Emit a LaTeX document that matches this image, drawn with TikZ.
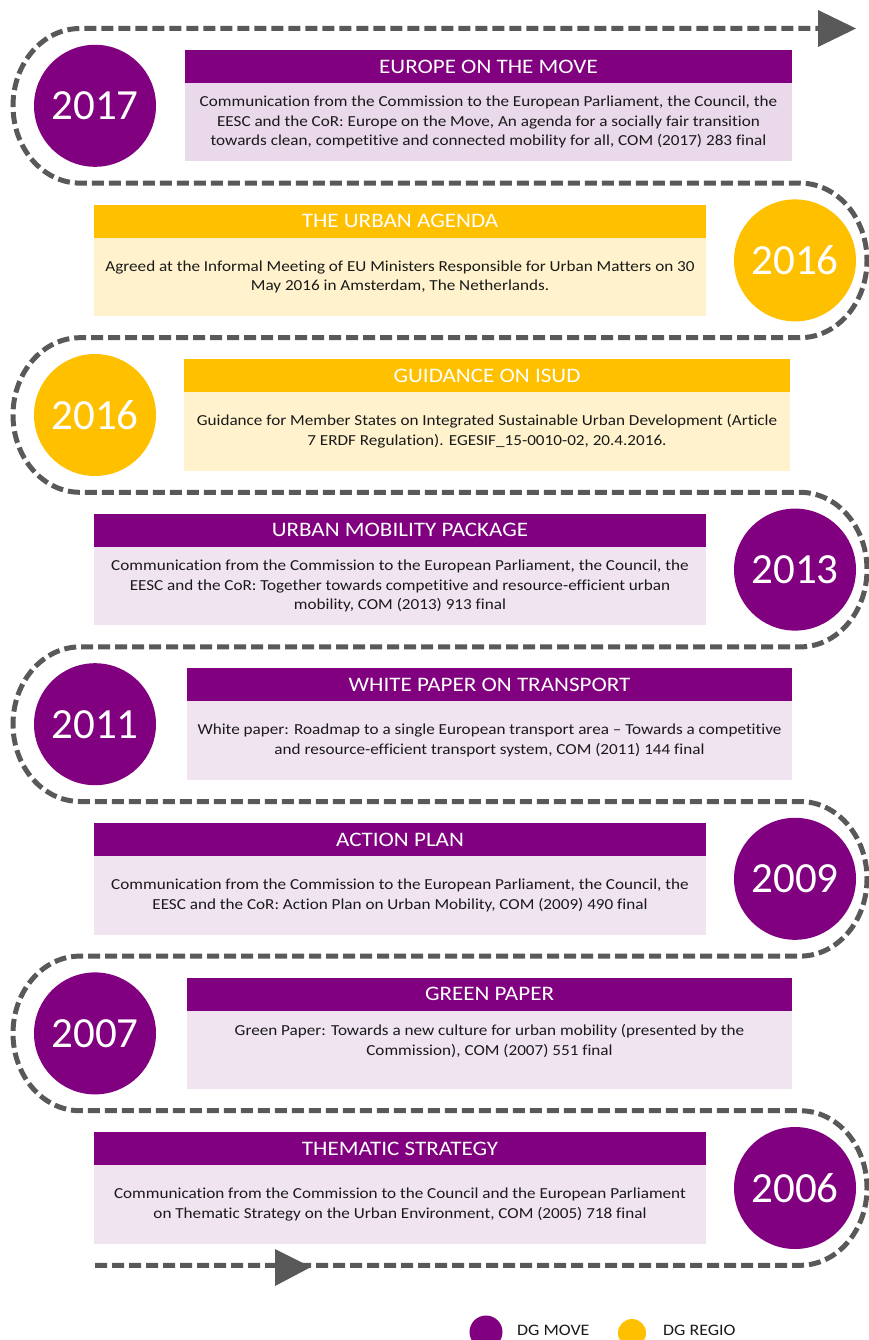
\documentclass[tikz,border=0pt]{standalone}
\usepackage{fontspec}
\setmainfont{Carlito}
\newfontfamily\widefont{Carlito}[FakeStretch=1.12, RawFeature=-liga]
\newfontfamily\yearfont{Carlito}[RawFeature=-liga]
\definecolor{move}{HTML}{800080}
\definecolor{regio}{HTML}{FFC000}
\definecolor{movelight}{HTML}{F0E4F1}
\definecolor{movelightA}{HTML}{EAD8EB}
\definecolor{regiolight}{HTML}{FFF2CC}
\definecolor{pathgray}{HTML}{595959}
\definecolor{bodytext}{HTML}{1A1A1A}
\tikzset{
  titlebar/.style={draw=none, minimum height=33pt, inner sep=0pt, text=white,
    font=\widefont\fontsize{20.6}{24}\selectfont},
  bodybox/.style={draw=none, minimum height=78.5pt, inner sep=0pt, align=center, text=bodytext,
    font=\widefont\fontsize{15.3}{19.5}\selectfont},
  year/.style={circle, minimum size=122pt, inner sep=0pt, text=white,
    font=\yearfont\fontsize{43}{50}\selectfont},
  track/.style={draw=pathgray, line width=5pt, dash pattern=on 12pt off 5pt},
  legendtext/.style={anchor=west, inner sep=0pt, text=bodytext, font=\widefont\fontsize{16}{19}\selectfont}
}
\begin{document}
\begin{tikzpicture}[x=1pt,y=1pt]
\useasboundingbox (0,0) rectangle (869,-1340);
% track
\draw[track] (95,-1265.3) -- (800,-1265.3)
  arc[start angle=-90, end angle=90, x radius=67, y radius=77.3] -- (80,-1110.7)
  arc[start angle=270, end angle=90, x radius=67, y radius=77.3] -- (800,-956.1)
  arc[start angle=-90, end angle=90, x radius=67, y radius=77.3] -- (80,-801.5)
  arc[start angle=270, end angle=90, x radius=67, y radius=77.3] -- (800,-646.9)
  arc[start angle=-90, end angle=90, x radius=67, y radius=77.3] -- (80,-492.3)
  arc[start angle=270, end angle=90, x radius=67, y radius=77.3] -- (800,-337.7)
  arc[start angle=-90, end angle=90, x radius=67, y radius=77.3] -- (80,-183.1)
  arc[start angle=270, end angle=90, x radius=67, y radius=77.3] -- (822,-28.5);
\fill[pathgray] (818,-10) -- (856,-28.5) -- (818,-47) -- cycle;
\fill[pathgray] (275,-1249) -- (311,-1267) -- (275,-1286) -- cycle;

% row 1: 2017
\node[year, fill=move] (y1) at (95,-105.8) {2017};
\node[titlebar, fill=move, minimum width=607pt] (t1) at (488.5,-66.5) {EUROPE ON THE MOVE};
\node[bodybox, fill=movelightA, minimum width=607pt] (b1) at (488.5,-122.25)
  {Communication from the Commission to the European Parliament, the Council, the\\
   EESC and the CoR: Europe on the Move, An agenda for a socially fair transition\\
   towards clean, competitive and connected mobility for all, COM (2017) 283 final};

% row 2: 2016 urban agenda
\node[year, fill=regio] (y2) at (795,-260.4) {2016};
\node[titlebar, fill=regio, minimum width=612pt] (t2) at (400,-221.1) {THE URBAN AGENDA};
\node[bodybox, fill=regiolight, minimum width=612pt] (b2) at (400,-276.85)
  {Agreed at the Informal Meeting of EU Ministers Responsible for Urban Matters on 30\\
   May 2016 in Amsterdam, The Netherlands.};

% row 3: 2016 ISUD
\node[year, fill=regio] (y3) at (95,-415) {2016};
\node[titlebar, fill=regio, minimum width=606pt] (t3) at (487,-375.7) {GUIDANCE ON ISUD};
\node[bodybox, fill=regiolight, minimum width=606pt] (b3) at (487,-431.45)
  {Guidance for Member States on Integrated Sustainable Urban Development (Article\\
   7 ERDF Regulation). EGESIF\_15-0010-02, 20.4.2016.};

% row 4: 2013
\node[year, fill=move] (y4) at (795,-569.6) {2013};
\node[titlebar, fill=move, minimum width=612pt] (t4) at (400,-530.3) {URBAN MOBILITY PACKAGE};
\node[bodybox, fill=movelight, minimum width=612pt] (b4) at (400,-586.05)
  {Communication from the Commission to the European Parliament, the Council, the\\
   EESC and the CoR: Together towards competitive and resource-efficient urban\\
   mobility, COM (2013) 913 final};

% row 5: 2011
\node[year, fill=move] (y5) at (95,-724.2) {2011};
\node[titlebar, fill=move, minimum width=605pt] (t5) at (489.5,-684.9) {WHITE PAPER ON TRANSPORT};
\node[bodybox, fill=movelight, minimum width=605pt] (b5) at (489.5,-740.65)
  {White paper: Roadmap to a single European transport area – Towards a competitive\\
   and resource-efficient transport system, COM (2011) 144 final};

% row 6: 2009
\node[year, fill=move] (y6) at (795,-878.8) {2009};
\node[titlebar, fill=move, minimum width=612pt] (t6) at (400,-839.5) {ACTION PLAN};
\node[bodybox, fill=movelight, minimum width=612pt] (b6) at (400,-895.25)
  {Communication from the Commission to the European Parliament, the Council, the\\
   EESC and the CoR: Action Plan on Urban Mobility, COM (2009) 490 final};

% row 7: 2007
\node[year, fill=move] (y7) at (95,-1033.4) {2007};
\node[titlebar, fill=move, minimum width=605pt] (t7) at (489.5,-994.1) {GREEN PAPER};
\node[bodybox, fill=movelight, minimum width=605pt] (b7) at (489.5,-1049.85) {};
\node[inner sep=0pt, align=center, text=bodytext, font=\widefont\fontsize{15.3}{19.5}\selectfont]
  (b7text) at (489.5,-1041)
  {Green Paper: Towards a new culture for urban mobility (presented by the\\
   Commission), COM (2007) 551 final};

% row 8: 2006
\node[year, fill=move] (y8) at (795,-1188) {2006};
\node[titlebar, fill=move, minimum width=612pt] (t8) at (400,-1148.7) {THEMATIC STRATEGY};
\node[bodybox, fill=movelight, minimum width=612pt] (b8) at (400,-1204.45)
  {Communication from the Commission to the Council and the European Parliament\\
   on Thematic Strategy on the Urban Environment, COM (2005) 718 final};

% legend
\node[circle, fill=move, minimum size=33pt, inner sep=0pt] (lm) at (486,-1332) {};
\node[legendtext] (lmt) at (517,-1330) {DG MOVE};
\node[circle, fill=regio, minimum size=28pt, inner sep=0pt] (lr) at (632,-1333) {};
\node[legendtext] (lrt) at (663,-1330) {DG REGIO};
\end{tikzpicture}
\end{document}
